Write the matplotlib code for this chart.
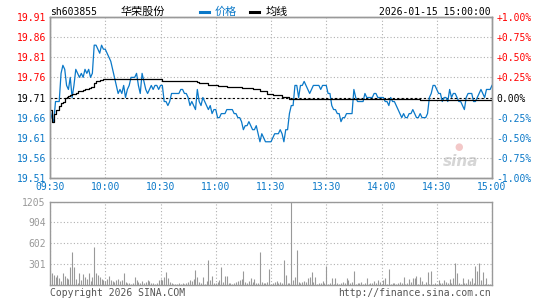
import numpy as np
import matplotlib
matplotlib.use("Agg")
import matplotlib.pyplot as plt

# ---- data ----
code = "sh603855"
name = "华荣股份"
stamp = "2026-01-15 15:00:00"
pre_close = 19.71

time_labels = ["09:30", "10:00", "10:30", "11:00", "11:30", "13:30", "14:00", "14:30", "15:00"]
price_ticks = [19.51, 19.56, 19.61, 19.66, 19.71, 19.76, 19.81, 19.86, 19.91]
pct_labels = ["-1.00%", "-0.75%", "-0.50%", "-0.25%", "0.00%", "+0.25%", "+0.50%", "+0.75%", "+1.00%"]
vol_ticks = [301, 602, 904, 1205]

# one price per minute, 09:30 .. 11:30, 13:01 .. 15:00
price = [
    19.68, 19.66, 19.65, 19.70, 19.70, 19.70, 19.77, 19.79, 19.78, 19.74,
    19.73, 19.76, 19.71, 19.74, 19.78, 19.77, 19.76, 19.77, 19.76, 19.78,
    19.77, 19.78, 19.76, 19.77, 19.84, 19.84, 19.83, 19.82, 19.84, 19.83,
    19.83, 19.82, 19.81, 19.80, 19.78, 19.76, 19.74, 19.72, 19.73, 19.72,
    19.74, 19.71, 19.73, 19.74, 19.76, 19.76, 19.76, 19.77, 19.74, 19.72,
    19.77, 19.75, 19.73, 19.72, 19.73, 19.74, 19.73, 19.74, 19.74, 19.73,
    19.74, 19.74, 19.70, 19.70, 19.69, 19.70, 19.72, 19.72, 19.72, 19.72,
    19.72, 19.73, 19.73, 19.72, 19.72, 19.71, 19.69, 19.70, 19.69, 19.68,
    19.73, 19.70, 19.69, 19.71, 19.70, 19.69, 19.68, 19.69, 19.67, 19.68,
    19.68, 19.66, 19.66, 19.67, 19.67, 19.67, 19.68, 19.68, 19.68, 19.68,
    19.67, 19.67, 19.66, 19.66, 19.65, 19.63, 19.64, 19.64, 19.65, 19.64,
    19.63, 19.63, 19.64, 19.62, 19.60, 19.62, 19.61, 19.60, 19.60, 19.60,
    19.60, 19.61, 19.62, 19.62, 19.62, 19.63, 19.62, 19.60, 19.63, 19.63,
    19.67, 19.69, 19.69, 19.74, 19.74, 19.71, 19.74, 19.74, 19.75, 19.74,
    19.73, 19.72, 19.73, 19.74, 19.74, 19.74, 19.74, 19.73, 19.74, 19.74,
    19.74, 19.72, 19.72, 19.69, 19.68, 19.68, 19.67, 19.67, 19.65, 19.66,
    19.66, 19.67, 19.67, 19.67, 19.67, 19.73, 19.71, 19.70, 19.70, 19.70,
    19.70, 19.72, 19.71, 19.71, 19.71, 19.71, 19.72, 19.72, 19.71, 19.71,
    19.71, 19.71, 19.70, 19.70, 19.69, 19.71, 19.70, 19.70, 19.69, 19.68,
    19.67, 19.66, 19.67, 19.66, 19.66, 19.67, 19.67, 19.68, 19.67, 19.66,
    19.66, 19.67, 19.66, 19.66, 19.66, 19.67, 19.71, 19.72, 19.74, 19.74,
    19.73, 19.72, 19.72, 19.70, 19.71, 19.71, 19.70, 19.73, 19.71, 19.72,
    19.72, 19.71, 19.70, 19.70, 19.69, 19.68, 19.71, 19.72, 19.72, 19.72,
    19.70, 19.70, 19.71, 19.72, 19.73, 19.72, 19.71, 19.73, 19.73, 19.73,
    19.74,
]

# average line, as steps (minute where a level starts, level)
avg_min = [0, 1, 2, 3, 5, 6, 7, 8, 9, 10, 11, 12, 13, 14, 15, 16, 17, 18, 19, 20,
           21, 22, 23, 24, 25, 26, 27, 28, 29, 30, 31, 60, 61, 80, 81, 86, 91, 96,
           104, 110, 114, 118, 121, 126, 130, 133, 161, 201, 240]
avg_val = [19.68, 19.65, 19.67, 19.68, 19.69, 19.696, 19.70, 19.71, 19.712, 19.714,
           19.716, 19.718, 19.719, 19.72, 19.725, 19.726, 19.727, 19.729, 19.73, 19.732,
           19.733, 19.735, 19.737, 19.745, 19.75, 19.752, 19.753, 19.754, 19.755, 19.756,
           19.757, 19.756, 19.752, 19.748, 19.745, 19.741, 19.739, 19.737, 19.733, 19.731,
           19.725, 19.718, 19.717, 19.712, 19.706, 19.707, 19.706, 19.705, 19.705]

volume = [
    217, 169, 145, 111, 145, 96, 63, 169, 130, 96,
    82, 265, 482, 265, 82, 24, 169, 72, 159, 111,
    82, 169, 63, 111, 554, 178, 145, 111, 82, 72,
    63, 82, 130, 72, 63, 48, 72, 82, 63, 72,
    178, 48, 34, 24, 14, 24, 111, 72, 48, 34,
    63, 34, 48, 72, 58, 34, 24, 14, 34, 72,
    82, 72, 111, 193, 96, 48, 24, 14, 19, 14,
    24, 14, 24, 19, 24, 48, 72, 63, 82, 217,
    111, 48, 24, 111, 14, 63, 361, 72, 130, 34,
    24, 48, 72, 255, 48, 130, 130, 34, 24, 14,
    34, 48, 63, 72, 82, 202, 48, 24, 63, 96,
    48, 82, 34, 24, 482, 48, 34, 24, 48, 231,
    14,
    24, 48, 63, 34, 48, 34, 361, 145, 34, 24,
    1205, 72, 121, 506, 48, 34, 48, 63, 48, 96,
    121, 193, 48, 121, 14, 24, 34, 63, 34, 275,
    14, 24, 106, 14, 96, 34, 14, 24, 48, 24,
    96, 72, 34, 48, 202, 14, 24, 34, 48, 14,
    34, 106, 14, 24, 34, 63, 24, 72, 48, 14,
    72, 106, 14, 231, 14, 34, 24, 14, 24, 48,
    34, 111, 14, 34, 82, 48, 96, 106, 130, 14,
    111, 63, 14, 48, 193, 14, 207, 14, 24, 14,
    72, 34, 24, 72, 48, 34, 82, 34, 96, 313,
    178, 24, 14, 96, 34, 24, 82, 63, 96, 24,
    275, 202, 313, 72, 193, 14, 96, 14, 14, 14,
]

# ---- styling ----
W, H = 545, 300
BLUE = "#0a78c8"
RED = "#ff0000"
GRAY = "#999999"
MONO = "DejaVu Sans Mono"
CJK = ["Noto Sans CJK SC", "DejaVu Sans"]
dotted = (0, (1, 2))


def fx(px):
    return px / W


def fy(py):
    return 1 - py / H


fig = plt.figure(figsize=(W / 100, H / 100), dpi=100)
ax = fig.add_axes([fx(50), fy(178), fx(442), 161 / H])
vax = fig.add_axes([fx(50), fy(285), fx(442), 83.5 / H])

x = np.arange(len(price))
tick_x = np.arange(0, 241, 30)

# price panel
ax.plot(x, price, color=BLUE, lw=0.9, zorder=3)
ax.step(avg_min, avg_val, where="post", color="black", lw=0.9, zorder=4)
ax.axhline(pre_close, color="black", lw=0.8, ls=(0, (2, 2)), zorder=2)
ax.set_xlim(0, 240)
ax.set_ylim(price_ticks[0], price_ticks[-1])
ax.set_yticks(price_ticks)
ax.set_yticklabels(["%.2f" % p for p in price_ticks], family=MONO, fontsize=7)
for lab, p in zip(ax.get_yticklabels(), price_ticks):
    lab.set_color(RED if p > pre_close + 1e-6 else ("black" if abs(p - pre_close) < 1e-6 else BLUE))
ax.set_xticks(tick_x)
ax.set_xticklabels(time_labels, family=MONO, fontsize=7, color=BLUE)
ax.tick_params(length=0, pad=3)
ax.grid(True, color="#b0b0b0", lw=0.8, ls=dotted)

ax2 = ax.twinx()
ax2.set_ylim(-1, 1)
ax2.set_yticks(np.linspace(-1, 1, 9))
ax2.set_yticklabels(pct_labels, family=MONO, fontsize=7)
for lab, t in zip(ax2.get_yticklabels(), pct_labels):
    lab.set_color(RED if t.startswith("+") else ("black" if t == "0.00%" else BLUE))
ax2.tick_params(length=0, pad=3)

for a in (ax, ax2, vax):
    for s in a.spines.values():
        s.set_color(GRAY)
        s.set_linewidth(1.0)

# sina watermark
ax.text(0.97, 0.1, "sina", transform=ax.transAxes, ha="right", va="center",
        fontsize=11, fontweight="bold", style="italic", color="#d6d6d6", zorder=1)
ax.text(0.925, 0.19, "●", transform=ax.transAxes, ha="center", va="center",
        fontsize=7, color="#f3c8c8", zorder=1)

# volume panel
vax.vlines(x, 0, volume, color=GRAY, lw=0.8)
vax.set_xlim(0, 240)
vax.set_ylim(0, vol_ticks[-1])
vax.set_yticks(vol_ticks)
vax.set_yticklabels([str(v) for v in vol_ticks], family=MONO, fontsize=7, color=GRAY)
vax.set_xticks(tick_x)
vax.set_xticklabels([])
vax.tick_params(length=0, pad=3)
vax.grid(True, color="#b0b0b0", lw=0.8, ls=dotted)

# header
fig.text(fx(50), fy(12), code, family=MONO, fontsize=7, va="center", ha="left")
fig.text(fx(121), fy(12), name, family=CJK, fontsize=8, va="center", ha="left")
fig.add_artist(plt.Line2D([fx(200), fx(209)], [fy(12), fy(12)], color=BLUE, lw=2.2))
fig.text(fx(215), fy(12), "价格", family=CJK, fontsize=8, va="center", ha="left", color=BLUE)
fig.add_artist(plt.Line2D([fx(250), fx(259)], [fy(12), fy(12)], color="black", lw=2.2))
fig.text(fx(266), fy(12), "均线", family=CJK, fontsize=8, va="center", ha="left")
fig.text(fx(491), fy(12), stamp, family=MONO, fontsize=7, va="center", ha="right")

# footer
fig.text(fx(50), fy(293), "Copyright 2026 SINA.COM", family=MONO, fontsize=7,
         va="center", ha="left", color="#555555")
fig.text(fx(491), fy(293), "http://finance.sina.com.cn", family=MONO, fontsize=7,
         va="center", ha="right", color="#555555")

fig.savefig("out.png", dpi=100)
